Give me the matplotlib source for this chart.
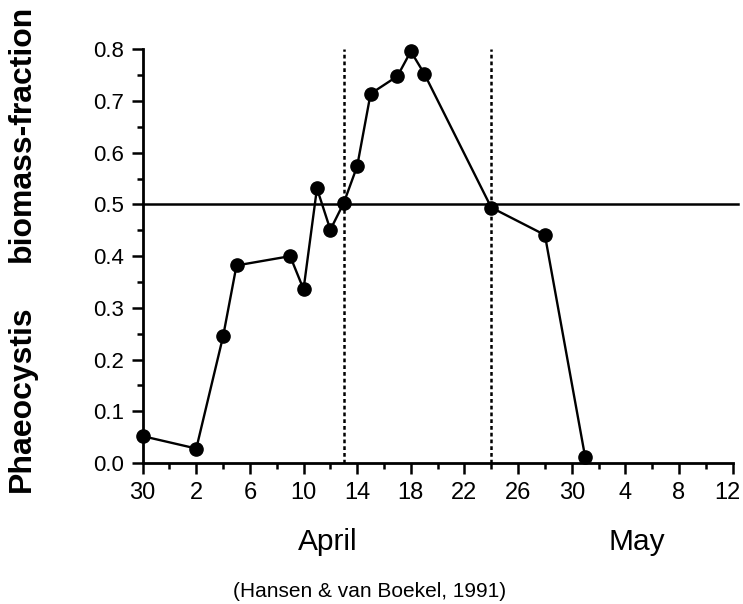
import numpy as np
import matplotlib.pyplot as plt
import matplotlib.transforms as mtransforms
from matplotlib.ticker import MultipleLocator, FixedLocator

plt.rcParams['font.family'] = ['Liberation Sans', 'DejaVu Sans']

# %%
# Sampling days (x axis position counted as day of April, 30 March sits at -2)
days = [-2, 2, 4, 5, 9, 10, 11, 12, 13, 14, 15, 17, 18, 19, 24, 28, 31]
fraction = [0.052, 0.028, 0.245, 0.382, 0.400, 0.336, 0.531, 0.451, 0.503,
            0.574, 0.714, 0.748, 0.796, 0.753, 0.494, 0.441, 0.012]

tick_pos = [-2, 2, 6, 10, 14, 18, 22, 26, 30, 34, 38, 42]
tick_labels = ['30', '2', '6', '10', '14', '18', '22', '26', '30', '4', '8', '12']
bloom_lines = [13, 24]
threshold = 0.5

# %%
fig = plt.figure(figsize=(7.43, 6.04), dpi=100)
ax = fig.add_axes([0.192, 0.2334, 0.794, 0.685])

ax.plot([-2, 42.4], [threshold, threshold], color='black', lw=1.8, clip_on=False)
for xv in bloom_lines:
    ax.plot([xv, xv], [0, 0.8], color='black', lw=1.8, linestyle=(0, (1.5, 1.2)))
ax.plot(days, fraction, color='black', lw=1.7, marker='o', markersize=9.5,
        clip_on=False, zorder=5)

ax.set_xlim(-2, 42)
ax.set_ylim(0, 0.8)
ax.xaxis.set_major_locator(FixedLocator(tick_pos))
ax.set_xticklabels(tick_labels)
ax.xaxis.set_minor_locator(MultipleLocator(2))
ax.yaxis.set_major_locator(MultipleLocator(0.1))
ax.yaxis.set_minor_locator(MultipleLocator(0.05))
ax.yaxis.set_major_formatter(plt.FormatStrFormatter('%.1f'))

for s in ['top', 'right']:
    ax.spines[s].set_visible(False)
for s in ['left', 'bottom']:
    ax.spines[s].set_linewidth(2)

ax.tick_params(which='major', direction='out', length=7.7, width=1.8, colors='black')
ax.tick_params(axis='x', which='major', pad=6, labelsize=17)
ax.tick_params(axis='y', which='major', pad=6, labelsize=16)
ax.tick_params(which='minor', direction='out', length=4, width=1.8)

# nudge the last label ("12") left so it stays inside the figure
last = ax.get_xticklabels()[-1]
last.set_transform(last.get_transform() +
                   mtransforms.ScaledTranslation(-5 / 100, 0, fig.dpi_scale_trans))

# %%
# Labels
fig.text(22 / 743, 0.340, 'Phaeocystis', rotation=90, ha='center', va='center',
         fontsize=23, fontweight='bold')
fig.text(22 / 743, 0.779, 'biomass-fraction', rotation=90, ha='center', va='center',
         fontsize=23, fontweight='bold')
fig.text(0.4415, 0.0894, 'April', ha='center', va='baseline', fontsize=21.5)
fig.text(0.857, 0.0894, 'May', ha='center', va='baseline', fontsize=21.5)
fig.text(0.497, 0.012, '(Hansen & van Boekel, 1991)', ha='center', va='baseline',
         fontsize=15)

fig.savefig('out.png', dpi=100)
